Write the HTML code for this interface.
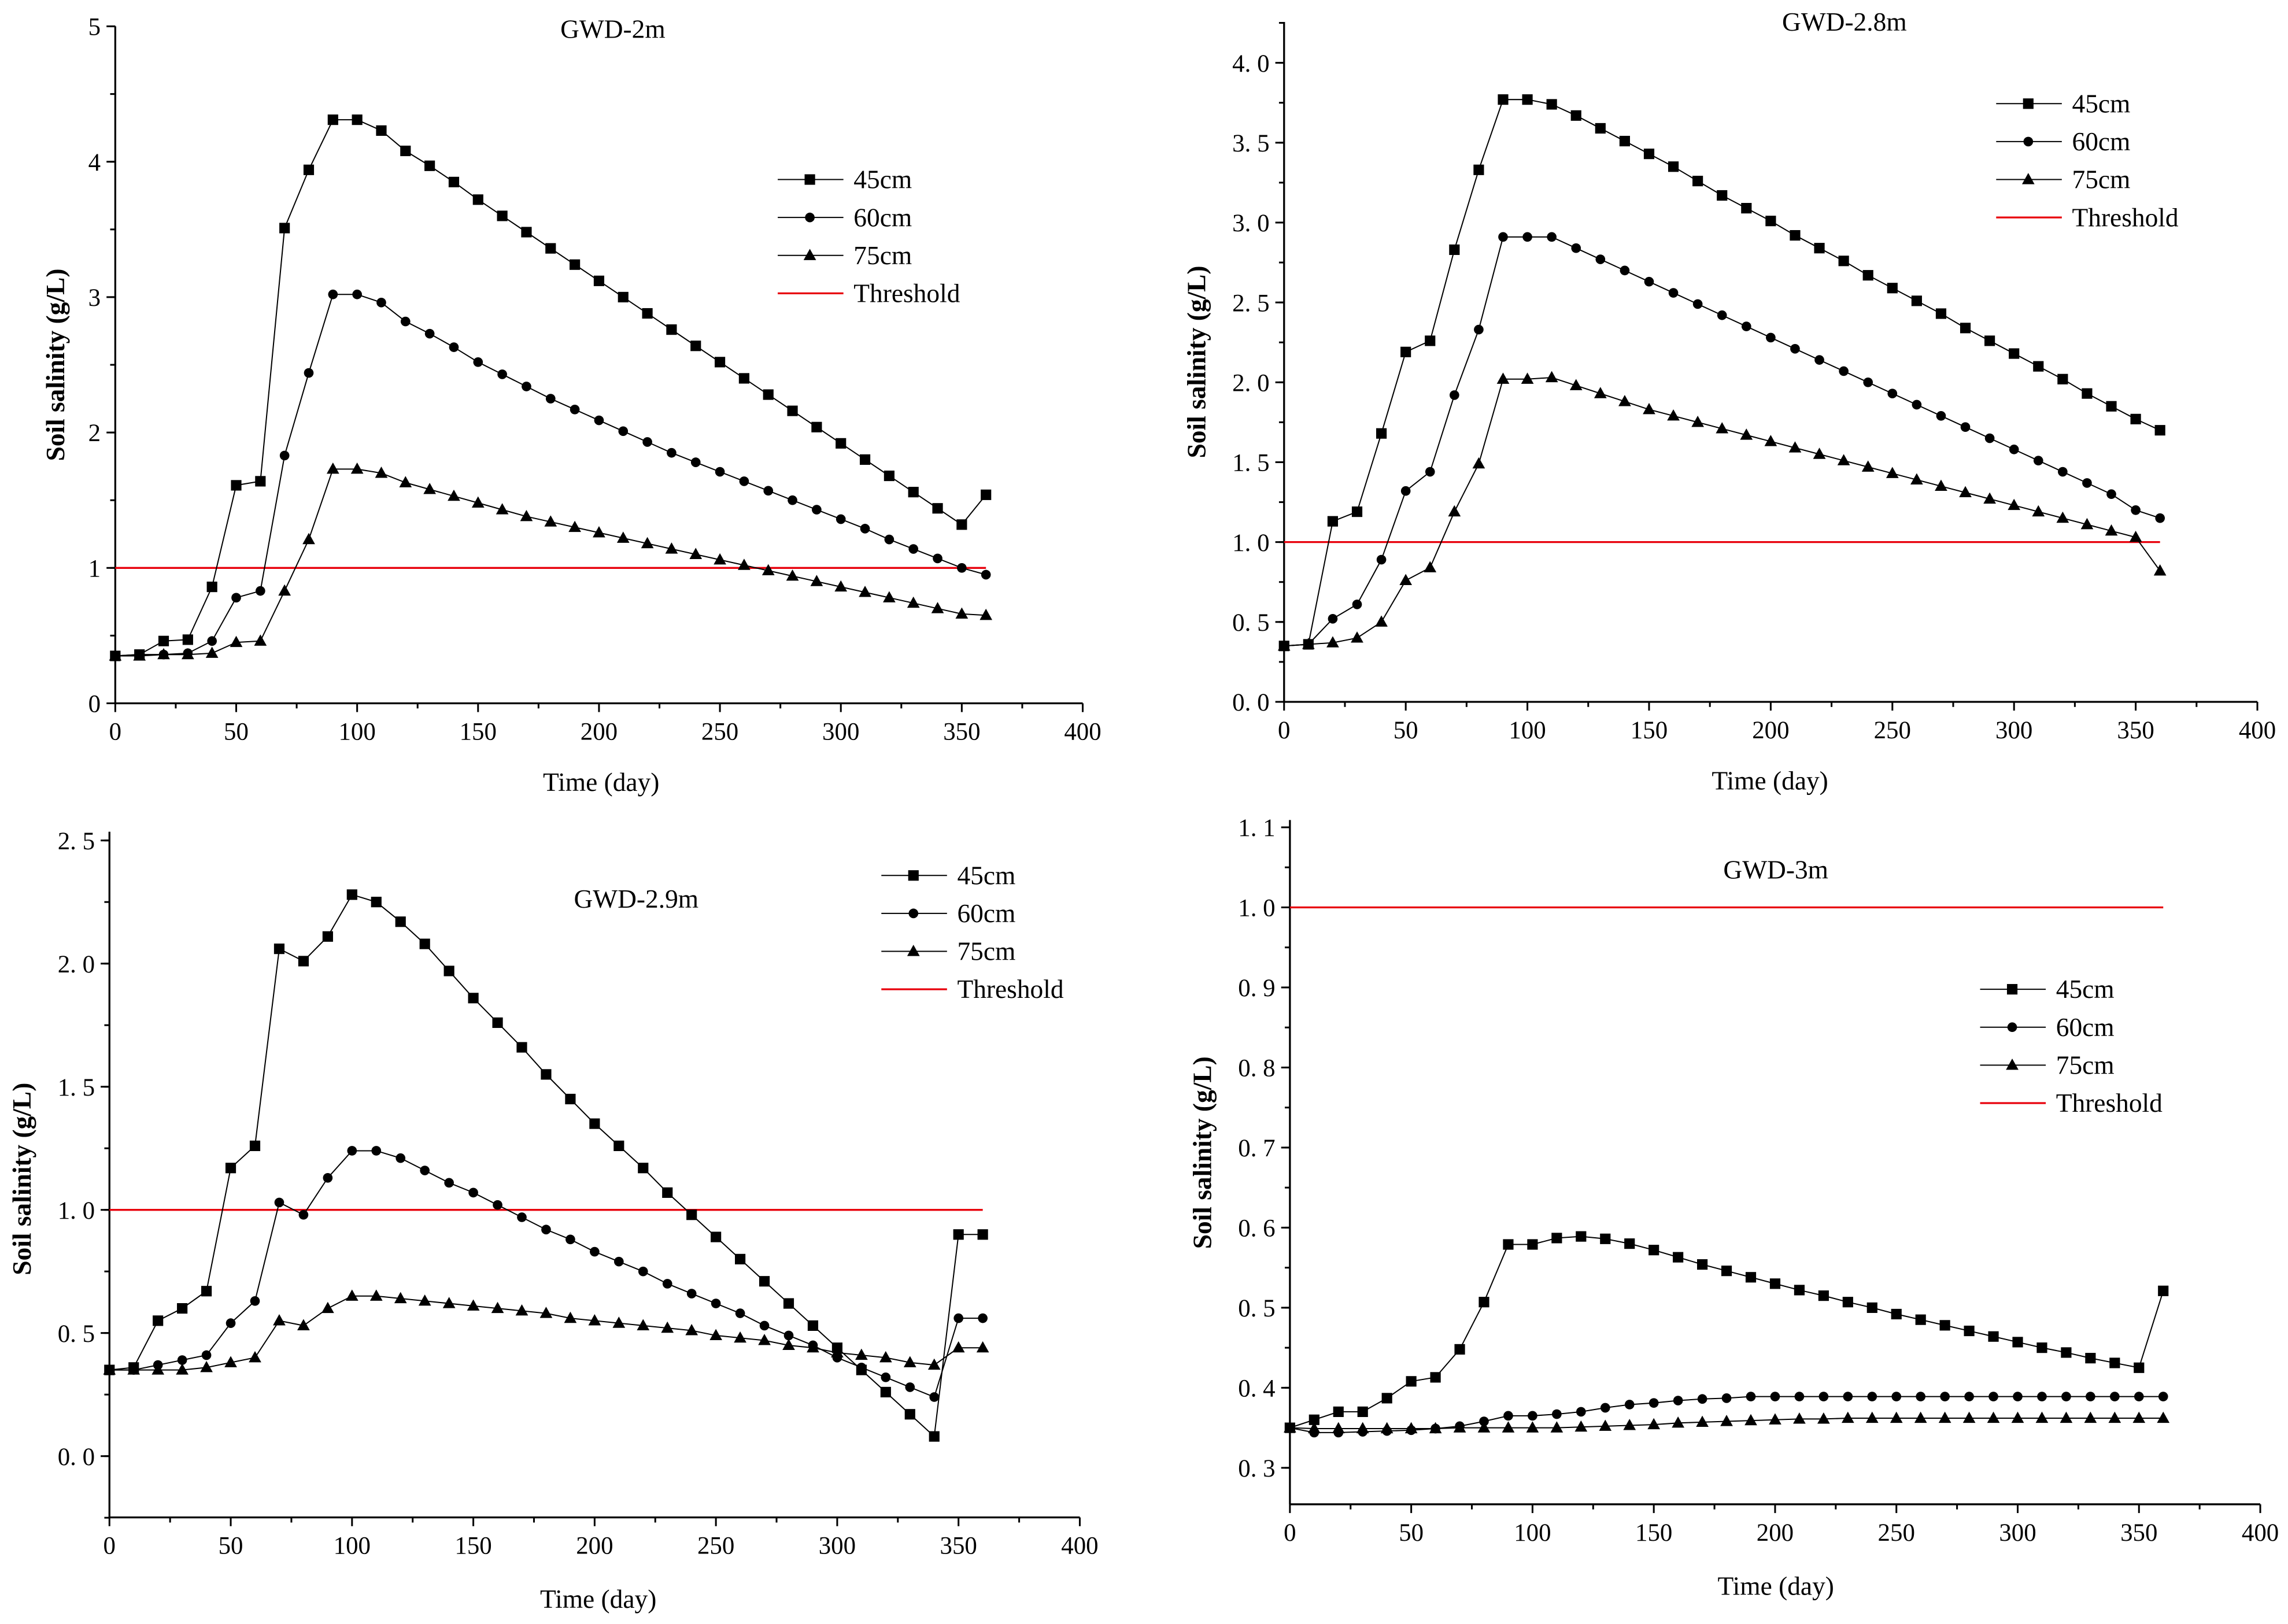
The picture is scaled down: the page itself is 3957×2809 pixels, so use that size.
<!DOCTYPE html>
<html><head><meta charset="utf-8"><style>
html,body{margin:0;padding:0;background:#fff;}
svg{display:block;}
text{font-family:"Liberation Serif","Noto Serif CJK SC",serif;fill:#000;}
</style></head><body>
<svg id="fig" width="3957" height="2809" viewBox="0 0 1568 1113" xmlns="http://www.w3.org/2000/svg"></svg>
<script>
const days = [0,10,20,30,40,50,60,70,80,90,100,110,120,130,140,150,160,170,180,190,200,210,220,230,240,250,260,270,280,290,300,310,320,330,340,350,360];
const seriesNames = ["45cm","60cm","75cm"];
const thresholdValue = 1.0;

const p1_45 = [0.35,0.36,0.46,0.47,0.86,1.61,1.64,3.51,3.94,4.31,4.31,4.23,4.08,3.97,3.85,3.72,3.60,3.48,3.36,3.24,3.12,3.00,2.88,2.76,2.64,2.52,2.40,2.28,2.16,2.04,1.92,1.80,1.68,1.56,1.44,1.32,1.54];
const p1_60 = [0.35,0.36,0.36,0.37,0.46,0.78,0.83,1.83,2.44,3.02,3.02,2.96,2.82,2.73,2.63,2.52,2.43,2.34,2.25,2.17,2.09,2.01,1.93,1.85,1.78,1.71,1.64,1.57,1.50,1.43,1.36,1.29,1.21,1.14,1.07,1.00,0.95];
const p1_75 = [0.35,0.35,0.36,0.36,0.37,0.45,0.46,0.83,1.21,1.73,1.73,1.70,1.63,1.58,1.53,1.48,1.43,1.38,1.34,1.30,1.26,1.22,1.18,1.14,1.10,1.06,1.02,0.98,0.94,0.90,0.86,0.82,0.78,0.74,0.70,0.66,0.65];

const p2_45 = [0.35,0.36,1.13,1.19,1.68,2.19,2.26,2.83,3.33,3.77,3.77,3.74,3.67,3.59,3.51,3.43,3.35,3.26,3.17,3.09,3.01,2.92,2.84,2.76,2.67,2.59,2.51,2.43,2.34,2.26,2.18,2.10,2.02,1.93,1.85,1.77,1.70];
const p2_60 = [0.35,0.36,0.52,0.61,0.89,1.32,1.44,1.92,2.33,2.91,2.91,2.91,2.84,2.77,2.70,2.63,2.56,2.49,2.42,2.35,2.28,2.21,2.14,2.07,2.00,1.93,1.86,1.79,1.72,1.65,1.58,1.51,1.44,1.37,1.30,1.20,1.15];
const p2_75 = [0.35,0.36,0.37,0.40,0.50,0.76,0.84,1.19,1.49,2.02,2.02,2.03,1.98,1.93,1.88,1.83,1.79,1.75,1.71,1.67,1.63,1.59,1.55,1.51,1.47,1.43,1.39,1.35,1.31,1.27,1.23,1.19,1.15,1.11,1.07,1.03,0.82];

const p3_45 = [0.35,0.36,0.55,0.60,0.67,1.17,1.26,2.06,2.01,2.11,2.28,2.25,2.17,2.08,1.97,1.86,1.76,1.66,1.55,1.45,1.35,1.26,1.17,1.07,0.98,0.89,0.80,0.71,0.62,0.53,0.44,0.35,0.26,0.17,0.08,0.90,0.90];
const p3_60 = [0.35,0.35,0.37,0.39,0.41,0.54,0.63,1.03,0.98,1.13,1.24,1.24,1.21,1.16,1.11,1.07,1.02,0.97,0.92,0.88,0.83,0.79,0.75,0.70,0.66,0.62,0.58,0.53,0.49,0.45,0.40,0.36,0.32,0.28,0.24,0.56,0.56];
const p3_75 = [0.35,0.35,0.35,0.35,0.36,0.38,0.40,0.55,0.53,0.60,0.65,0.65,0.64,0.63,0.62,0.61,0.60,0.59,0.58,0.56,0.55,0.54,0.53,0.52,0.51,0.49,0.48,0.47,0.45,0.44,0.42,0.41,0.40,0.38,0.37,0.44,0.44];

const p4_45 = [0.35,0.36,0.37,0.37,0.387,0.408,0.413,0.448,0.507,0.579,0.579,0.587,0.589,0.586,0.580,0.572,0.563,0.554,0.546,0.538,0.530,0.522,0.515,0.507,0.500,0.492,0.485,0.478,0.471,0.464,0.457,0.450,0.444,0.437,0.431,0.425,0.521];
const p4_60 = [0.35,0.344,0.344,0.345,0.346,0.347,0.349,0.352,0.358,0.365,0.365,0.367,0.370,0.375,0.379,0.381,0.384,0.386,0.387,0.389,0.389,0.389,0.389,0.389,0.389,0.389,0.389,0.389,0.389,0.389,0.389,0.389,0.389,0.389,0.389,0.389,0.389];
const p4_75 = [0.35,0.349,0.349,0.349,0.349,0.349,0.349,0.350,0.350,0.350,0.350,0.350,0.351,0.352,0.353,0.354,0.356,0.357,0.358,0.359,0.360,0.361,0.361,0.362,0.362,0.362,0.362,0.362,0.362,0.362,0.362,0.362,0.362,0.362,0.362,0.362,0.362];

const xTicks = [0,50,100,150,200,250,300,350,400];
const p1Ticks = ["0","1","2","3","4","5"];
const p2Ticks = ["0. 0","0. 5","1. 0","1. 5","2. 0","2. 5","3. 0","3. 5","4. 0"];
const p3Ticks = ["0. 0","0. 5","1. 0","1. 5","2. 0","2. 5"];
const p4Ticks = ["0. 3","0. 4","0. 5","0. 6","0. 7","0. 8","0. 9","1. 0","1. 1"];

const NS="http://www.w3.org/2000/svg";
const svg=document.getElementById('fig');
function mk(tag,attrs,parent){const e=document.createElementNS(NS,tag);for(const k in attrs)e.setAttribute(k,attrs[k]);(parent||svg).appendChild(e);return e;}

const panels=[
 {id:'gwd-2m',title:'GWD-2m',L:79,R:742,B:482,T:18,ymin:0,ymax:5,yv0:0,ystep:1,yminor:0.5,ticks:p1Ticks,data:[p1_45,p1_60,p1_75],tx:420,ty:26,lx:533,ly:123,xlab:[412,542],ylabx:44,ylaby:250,axTop:18},
 {id:'gwd-2.8m',title:'GWD-2.8m',L:880,R:1547,B:481,T:43,ymin:0,ymax:4,yv0:0,ystep:0.5,yminor:0.25,ticks:p2Ticks,data:[p2_45,p2_60,p2_75],tx:1264,ty:21,lx:1368,ly:71,xlab:[1213,541],ylabx:826,ylaby:248,axTop:15},
 {id:'gwd-2.9m',title:'GWD-2.9m',L:75,R:740,B:998,T:576,ymin:0,ymax:2.5,yv0:0,ystep:0.5,yminor:0.25,ticks:p3Ticks,data:[p3_45,p3_60,p3_75],tx:436,ty:622,lx:604,ly:600,xlab:[410,1102],ylabx:21,ylaby:808,axTop:570,axBot:1040,ybotVal:-0.25},
 {id:'gwd-3m',title:'GWD-3m',L:884,R:1549,B:1006,T:567,ymin:0.3,ymax:1.1,yv0:0.3,ystep:0.1,yminor:0.05,ticks:p4Ticks,data:[p4_45,p4_60,p4_75],tx:1217,ty:602,lx:1357,ly:678,xlab:[1217,1093],ylabx:830,ylaby:790,axTop:562,axBot:1031,ybotVal:0.25}
];

function marker(g,kind,x,y){
  if(kind===0) return mk('rect',{x:x-3.6,y:y-3.6,width:7.2,height:7.2,fill:'#000'},g);
  if(kind===1) return mk('circle',{cx:x,cy:y,r:3.3,fill:'#000'},g);
  return mk('polygon',{points:`${x},${y-4.5} ${x+4.3},${y+3.2} ${x-4.3},${y+3.2}`,fill:'#000'},g);
}

panels.forEach(p=>{
  const g=mk('g',{});
  
  
  const sx=v=>p.L+(v-0)/400*(p.R-p.L);
  const sy=v=>p.B-(v-p.ymin)/(p.ymax-p.ymin)*(p.B-p.T);
  const axBot = p.axBot!==undefined ? p.axBot : p.B;
  // axes
  const ya=mk('line',{x1:p.L,y1:p.axTop,x2:p.L,y2:axBot,stroke:'#000','stroke-width':1.3},g);
  
  
  const xa=mk('line',{x1:p.L,y1:axBot,x2:p.R,y2:axBot,stroke:'#000','stroke-width':1.3},g);
  
  
  // x ticks
  xTicks.forEach((t,i)=>{
    const x=sx(t);
    mk('line',{x1:x,y1:axBot,x2:x,y2:axBot+6,stroke:'#000','stroke-width':1.2},g);
    if(i<xTicks.length-1) mk('line',{x1:sx(t+25),y1:axBot,x2:sx(t+25),y2:axBot+3.5,stroke:'#000','stroke-width':1.2},g);
    const tl=mk('text',{x:x,y:axBot+25,'text-anchor':'middle','font-size':17},g);
    tl.textContent=t;
    
    
  });
  // y ticks
  p.ticks.forEach((lab,i)=>{
    const v=p.yv0+i*p.ystep;
    const y=sy(v);
    mk('line',{x1:p.L-6,y1:y,x2:p.L,y2:y,stroke:'#000','stroke-width':1.2},g);
    const tl=mk('text',{x:p.L-10,y:y+6,'text-anchor':'end','font-size':17},g);
    tl.textContent=lab;
    
    
  });
  // y minor ticks
  const lo = p.ybotVal!==undefined ? p.ybotVal : p.ymin;
  for(let v=lo; v<=p.ymax+p.ystep+1e-9; v+=p.yminor){
    const y=sy(v);
    if(y<p.axTop-0.5||y>axBot+0.5) continue;
    mk('line',{x1:p.L-3.5,y1:y,x2:p.L,y2:y,stroke:'#000','stroke-width':1.2},g);
  }
  // threshold
  const th=mk('line',{x1:sx(0),y1:sy(thresholdValue),x2:sx(360),y2:sy(thresholdValue),stroke:'#e8000b','stroke-width':1.3},g);
  
  
  // series
  p.data.forEach((arr,k)=>{
    const sg=mk('g',{},g);
    
    
    mk('polyline',{points:arr.map((v,i)=>sx(days[i])+','+sy(v)).join(' '),fill:'none',stroke:'#000','stroke-width':0.8},sg);
    arr.forEach((v,i)=>{
      const m=marker(sg,k,sx(days[i]),sy(v));
      
      
    });
  });
  // title
  const tt=mk('text',{x:p.tx,y:p.ty,'text-anchor':'middle','font-size':18},g);
  tt.textContent=p.title;
  
  
  // axis labels
  const xl=mk('text',{x:p.xlab[0],y:p.xlab[1],'text-anchor':'middle','font-size':18},g);
  xl.textContent='Time (day)';
  
  
  const yl=mk('text',{x:0,y:0,'text-anchor':'middle','font-size':18,'font-weight':'bold',transform:`translate(${p.ylabx},${p.ylaby}) rotate(-90)`},g);
  yl.textContent='Soil salinity (g/L)';
  
  
  // legend
  const lg=mk('g',{},g);
  
  
  const labels=[...seriesNames,'Threshold'];
  labels.forEach((lab,k)=>{
    const y=p.ly+k*26;
    const eg=mk('g',{},lg);
    
    
    mk('line',{x1:p.lx,y1:y,x2:p.lx+45,y2:y,stroke:k===3?'#e8000b':'#000','stroke-width':k===3?1.3:0.8},eg);
    if(k<3) marker(eg,k,p.lx+22,y);
    const t=mk('text',{x:p.lx+52,y:y+6,'font-size':18},eg);
    t.textContent=lab;
  });
});
</script>
</body></html>
